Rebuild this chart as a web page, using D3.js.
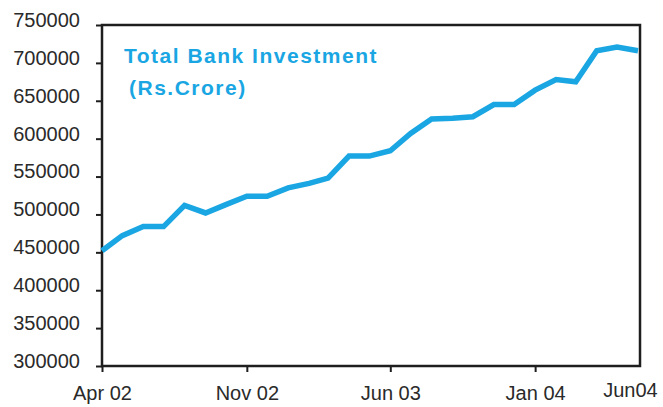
<!DOCTYPE html>
<html>
<head>
<meta charset="utf-8">
<script src="https://cdn.jsdelivr.net/npm/d3@7/dist/d3.min.js"></script>
<style>
  html, body { margin: 0; padding: 0; background: #fff; }
  svg { display: block; }
</style>
</head>
<body>
<svg id="chart" width="663" height="407"></svg>
<script>
// ---- Data ----
const months = [
  "2002-04","2002-05","2002-06","2002-07","2002-08","2002-09","2002-10","2002-11","2002-12",
  "2003-01","2003-02","2003-03","2003-04","2003-05","2003-06","2003-07","2003-08","2003-09",
  "2003-10","2003-11","2003-12","2004-01","2004-02","2004-03","2004-04","2004-05","2004-06"
];
const investment = [
  452000, 472000, 484000, 484000, 512000, 502000, 513000, 524000, 524000,
  535000, 541000, 548000, 577000, 577000, 584000, 607000, 626000, 627000,
  629000, 645000, 645000, 664000, 678000, 675000, 716000, 721000, 716000
];
const xTickMonths = ["2002-04", "2002-11", "2003-06", "2004-01", "2004-06"];
const xTickLabels = ["Apr 02", "Nov 02", "Jun 03", "Jan 04", "Jun04"];
const yTicks = [300000, 350000, 400000, 450000, 500000, 550000, 600000, 650000, 700000, 750000];
const titleLines = ["Total Bank Investment", "(Rs.Crore)"];

// ---- Layout ----
const parse = d3.timeParse("%Y-%m");
const data = months.map((m, i) => ({ date: parse(m), value: investment[i] }));
const mLeft = 102, mRight = 640, mTop = 25, mBottom = 366;
const blue = "#19a6e3";
const ink = "#1e1e1e";
const font = "'Liberation Sans', Arial, sans-serif";

const svg = d3.select("#chart");

const x = d3.scaleTime()
  .domain([parse(months[0]), parse(months[months.length - 1])])
  .range([mLeft, mRight - 2]);
const y = d3.scaleLinear().domain([300000, 750000]).range([mBottom, mTop]);

// frame
svg.append("rect")
  .attr("x", mLeft).attr("y", mTop)
  .attr("width", mRight - mLeft).attr("height", mBottom - mTop)
  .attr("fill", "none").attr("stroke", ink).attr("stroke-width", 2.5);

// y axis
const yAxis = svg.append("g")
  .attr("transform", `translate(${mLeft},0)`)
  .call(d3.axisLeft(y).tickValues(yTicks).tickFormat(d3.format("d")).tickSize(6).tickPadding(16));
yAxis.select(".domain").remove();
yAxis.selectAll(".tick line").attr("stroke", ink).attr("stroke-width", 2);
yAxis.selectAll(".tick text")
  .attr("font-family", font).attr("font-size", 20).attr("fill", "#2a2a2a")
  .attr("y", -5);

// x axis
const xAxis = svg.append("g")
  .attr("transform", `translate(0,${mBottom})`)
  .call(d3.axisBottom(x)
    .tickValues(xTickMonths.map(parse))
    .tickFormat((d, i) => xTickLabels[i])
    .tickSize(6).tickPadding(14));
xAxis.select(".domain").remove();
xAxis.selectAll(".tick line").attr("stroke", ink).attr("stroke-width", 2);
xAxis.selectAll(".tick text")
  .attr("font-family", font).attr("font-size", 20).attr("fill", "#2a2a2a");
const lastTick = xAxis.selectAll(".tick").filter((d, i) => i === xTickMonths.length - 1);
lastTick.select("line").remove();
lastTick.select("text").attr("x", -8).attr("y", 17);

// line
const line = d3.line().x(d => x(d.date)).y(d => y(d.value));
svg.append("path")
  .datum(data)
  .attr("d", line)
  .attr("fill", "none")
  .attr("stroke", blue)
  .attr("stroke-width", 5.5)
  .attr("stroke-linejoin", "miter")
  .attr("stroke-miterlimit", 2);

// title
svg.append("text")
  .attr("x", 124).attr("y", 63)
  .attr("font-family", font).attr("font-size", 21).attr("font-weight", "bold")
  .attr("letter-spacing", 1.5)
  .attr("fill", blue)
  .text(titleLines[0]);
svg.append("text")
  .attr("x", 129).attr("y", 95)
  .attr("font-family", font).attr("font-size", 21).attr("font-weight", "bold")
  .attr("letter-spacing", 1.5)
  .attr("fill", blue)
  .text(titleLines[1]);
</script>
</body>
</html>
